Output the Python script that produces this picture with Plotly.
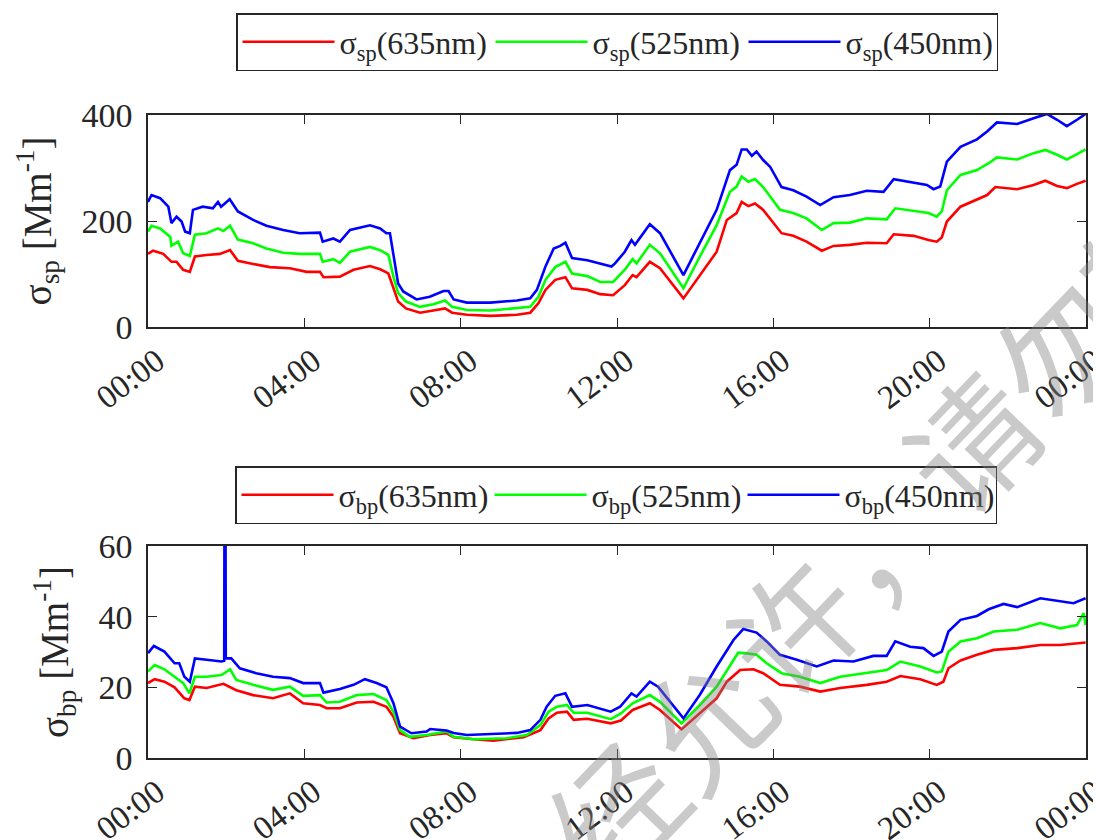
import plotly.graph_objects as go

# ---------------- data (hours since 00:00, values in Mm^-1) ----------------
sp_red_t = [0, 0.13, 0.39, 0.6, 0.73, 0.9, 1.07, 1.2, 1.5, 1.84, 2.1, 2.3, 2.69, 3.12, 3.63, 4.06, 4.4, 4.49, 4.91, 5.26, 5.68, 5.94, 6.15, 6.28, 6.4, 6.6, 6.96, 7.3, 7.6, 7.78, 8.16, 8.76, 9.44, 9.78, 9.99, 10.17, 10.42, 10.68, 10.85, 11.24, 11.57, 11.9, 12.2, 12.4, 12.5, 12.84, 13.1, 13.7, 14.55, 14.81, 15.06, 15.19, 15.36, 15.53, 15.74, 16.21, 16.51, 16.85, 17.24, 17.54, 17.96, 18.39, 18.9, 19.08, 19.59, 19.97, 20.18, 20.31, 20.44, 20.79, 21.21, 21.47, 21.68, 22.24, 22.66, 22.96, 23.26, 23.51, 23.77, 23.99]
sp_red = [138, 144, 138, 123, 123, 108, 104, 133, 136, 138, 145, 125, 119, 113, 111, 104, 104, 94, 95, 108, 115, 109, 101, 73, 48, 35, 27, 31, 35, 27, 23, 21, 23, 27, 45, 70, 89, 94, 73, 70, 62, 60, 79, 98, 94, 123, 111, 54, 142, 202, 215, 236, 228, 233, 221, 177, 172, 161, 144, 153, 155, 159, 158, 175, 172, 164, 161, 169, 199, 227, 240, 249, 264, 260, 268, 276, 266, 262, 270, 276]

sp_green_t = [0, 0.09, 0.31, 0.57, 0.6, 0.77, 0.9, 1.07, 1.2, 1.5, 1.79, 1.93, 2.1, 2.3, 2.69, 3.03, 3.46, 3.88, 4.4, 4.47, 4.74, 4.91, 5.17, 5.68, 5.94, 6.15, 6.28, 6.4, 6.6, 6.96, 7.3, 7.6, 7.78, 8.16, 8.76, 9.44, 9.78, 9.99, 10.17, 10.42, 10.68, 10.85, 11.24, 11.57, 11.9, 12.2, 12.4, 12.5, 12.84, 13.1, 13.7, 14.12, 14.55, 14.89, 15.06, 15.19, 15.36, 15.53, 15.74, 16.17, 16.51, 16.85, 17.24, 17.54, 17.96, 18.39, 18.9, 19.12, 19.59, 19.97, 20.18, 20.31, 20.44, 20.79, 21.21, 21.51, 21.72, 22.24, 22.66, 22.96, 23.26, 23.51, 23.77, 23.99]
sp_green = [180, 191, 186, 170, 153, 161, 139, 134, 174, 177, 186, 181, 191, 165, 158, 148, 140, 138, 138, 123, 128, 121, 142, 151, 145, 136, 95, 64, 48, 38, 43, 50, 38, 32, 31, 35, 38, 57, 89, 113, 123, 101, 96, 85, 85, 108, 128, 120, 155, 139, 73, 133, 192, 255, 265, 284, 274, 279, 264, 221, 215, 205, 183, 196, 197, 205, 203, 224, 219, 215, 208, 218, 258, 287, 296, 309, 320, 316, 328, 334, 325, 316, 326, 335]

sp_blue_t = [0, 0.09, 0.31, 0.52, 0.6, 0.73, 0.86, 0.95, 1.07, 1.15, 1.4, 1.66, 1.79, 1.87, 2.09, 2.3, 2.69, 3.03, 3.46, 3.88, 4.4, 4.47, 4.74, 4.91, 5.17, 5.68, 5.94, 6.1, 6.19, 6.28, 6.4, 6.53, 6.87, 7.21, 7.56, 7.69, 7.82, 8.16, 8.76, 9.44, 9.78, 9.95, 10.17, 10.38, 10.55, 10.68, 10.85, 11.24, 11.58, 11.86, 11.95, 12.2, 12.37, 12.46, 12.84, 13.1, 13.7, 14.12, 14.55, 14.89, 15.06, 15.19, 15.32, 15.45, 15.57, 15.74, 15.92, 16.21, 16.51, 16.85, 17.2, 17.54, 17.96, 18.39, 18.82, 19.08, 19.5, 19.93, 20.1, 20.27, 20.44, 20.79, 21.21, 21.47, 21.72, 22.24, 22.66, 23.0, 23.26, 23.51, 23.77, 23.99]
sp_blue = [236, 249, 243, 227, 196, 208, 199, 180, 177, 221, 227, 224, 236, 227, 241, 218, 202, 191, 183, 177, 178, 161, 167, 161, 183, 192, 186, 177, 177, 139, 82, 67, 52, 57, 68, 68, 52, 46, 46, 50, 54, 70, 114, 148, 153, 159, 130, 126, 119, 114, 120, 142, 164, 155, 194, 177, 98, 158, 221, 296, 306, 335, 335, 323, 331, 315, 302, 264, 258, 246, 230, 245, 249, 257, 255, 279, 274, 268, 260, 265, 312, 340, 354, 369, 386, 383, 394, 402, 391, 379, 391, 402]

bp_red_t = [0, 0.17, 0.42, 0.68, 0.93, 1.06, 1.2, 1.5, 1.93, 2.26, 2.69, 3.2, 3.63, 3.97, 4.4, 4.57, 4.91, 5.34, 5.77, 6.1, 6.28, 6.45, 6.79, 7.22, 7.64, 7.82, 8.33, 8.84, 9.61, 10.04, 10.25, 10.46, 10.72, 10.89, 11.24, 11.84, 12.1, 12.4, 12.84, 13.1, 13.65, 14.55, 14.81, 15.15, 15.49, 15.74, 16.17, 16.68, 17.2, 17.71, 18.39, 18.9, 19.25, 19.76, 20.18, 20.35, 20.48, 20.79, 21.21, 21.64, 22.24, 22.83, 23.34, 23.99]
bp_red = [21.2, 22.3, 21.6, 20.0, 16.9, 16.4, 20.2, 19.8, 21.0, 19.2, 17.8, 16.9, 18.3, 15.5, 15.0, 14.1, 14.1, 15.7, 15.9, 14.5, 11.7, 7.0, 5.6, 6.5, 7.0, 5.9, 5.3, 4.9, 5.9, 7.9, 11.2, 12.8, 13.1, 10.8, 11.1, 9.8, 10.6, 13.6, 15.5, 13.6, 8.1, 16.9, 21.6, 24.9, 25.1, 24.0, 20.7, 20.2, 18.8, 19.8, 20.7, 21.6, 23.2, 22.3, 20.7, 21.6, 25.4, 27.6, 29.2, 30.6, 31.1, 32.0, 32.0, 32.7]

bp_green_t = [0, 0.17, 0.42, 0.68, 0.9, 1.06, 1.2, 1.5, 1.88, 2.1, 2.26, 2.69, 3.2, 3.63, 3.97, 4.4, 4.57, 4.91, 5.34, 5.77, 6.1, 6.28, 6.45, 6.7, 7.13, 7.64, 7.82, 8.33, 9.18, 9.69, 10.04, 10.25, 10.46, 10.72, 10.89, 11.24, 11.84, 12.1, 12.4, 12.84, 13.1, 13.65, 14.12, 14.55, 14.85, 15.1, 15.32, 15.57, 15.83, 16.21, 16.68, 17.2, 17.71, 18.39, 18.9, 19.25, 19.76, 20.18, 20.31, 20.48, 20.79, 21.21, 21.64, 22.24, 22.83, 23.34, 23.77, 23.94, 23.99]
bp_green = [24.5, 26.3, 25.1, 23.0, 21.2, 18.3, 23.0, 23.0, 23.5, 25.1, 22.1, 20.7, 19.3, 20.2, 17.6, 17.8, 15.7, 15.9, 17.8, 18.1, 16.4, 13.1, 7.9, 6.0, 6.5, 7.5, 6.0, 5.3, 5.6, 6.5, 9.3, 13.1, 14.5, 15.0, 12.8, 12.8, 11.0, 12.6, 15.5, 17.8, 15.9, 9.8, 15.0, 20.2, 25.4, 29.8, 29.6, 29.2, 26.8, 24.0, 23.0, 21.2, 23.0, 24.0, 24.9, 27.3, 25.9, 24.2, 24.5, 30.1, 33.0, 33.9, 35.8, 36.3, 38.2, 36.7, 37.6, 41.0, 37.6]

bp_blue_t = [0, 0.15, 0.42, 0.68, 0.8, 0.93, 1.07, 1.2, 1.5, 1.88, 1.95, 1.96, 1.98, 1.99, 2.13, 2.35, 2.77, 3.2, 3.63, 3.97, 4.4, 4.49, 4.91, 5.26, 5.55, 5.85, 6.1, 6.28, 6.45, 6.74, 7.13, 7.22, 7.64, 7.82, 8.16, 8.76, 9.44, 9.78, 10.04, 10.2, 10.42, 10.68, 10.85, 11.24, 11.84, 12.08, 12.37, 12.5, 12.84, 13.05, 13.7, 14.12, 14.55, 14.98, 15.23, 15.57, 15.83, 16.17, 16.6, 17.11, 17.54, 18.05, 18.56, 18.9, 19.12, 19.5, 19.84, 20.1, 20.31, 20.48, 20.79, 21.21, 21.51, 21.89, 22.24, 22.83, 23.34, 23.68, 23.99]
bp_blue = [29.7, 31.7, 30.1, 26.8, 26.8, 23.0, 21.6, 28.2, 27.8, 27.3, 27.5, 90, 90, 28.2, 28.2, 25.4, 24.0, 23.0, 22.6, 21.2, 21.2, 18.5, 19.5, 20.7, 22.3, 21.2, 20.0, 15.5, 8.9, 7.0, 7.5, 8.2, 7.8, 7.1, 6.5, 6.8, 7.1, 7.9, 10.8, 14.5, 17.6, 18.3, 14.5, 15.0, 13.1, 14.5, 18.3, 17.4, 21.6, 20.2, 11.2, 17.9, 25.9, 33.4, 36.5, 35.5, 33.0, 29.2, 27.8, 25.9, 27.6, 27.3, 28.9, 28.9, 33.0, 31.5, 31.1, 28.9, 30.1, 35.8, 39.1, 40.2, 42.1, 43.6, 42.7, 45.2, 44.3, 43.8, 45.2]

x_tickvals = [0, 4, 8, 12, 16, 20, 24]
x_ticktext = ["00:00", "04:00", "08:00", "12:00", "16:00", "20:00", "00:00"]
sp_ticks = [0, 200, 400]
bp_ticks = [0, 20, 40, 60]
names_sp = ["σ<sub>sp</sub>(635nm)", "σ<sub>sp</sub>(525nm)", "σ<sub>sp</sub>(450nm)"]
names_bp = ["σ<sub>bp</sub>(635nm)", "σ<sub>bp</sub>(525nm)", "σ<sub>bp</sub>(450nm)"]
colors = ["#ff0000", "#00ff00", "#0000ff"]
watermark = "未经允许，请勿转载"

# ---------------- figure ----------------
SERIF = "Liberation Serif, Times New Roman, serif"
AX = "#262626"
OFF = 8                      # the page shows the figure offset by the body margin
W, H = 1101 - OFF, 840 - OFF
ML, MR, MT, MB = 148 - OFF, 15, 0, 0
PW = W - ML - MR


def py(px):                  # reference pixel row -> paper fraction
    return 1 - (px - OFF) / H


def pxx(px):                 # reference pixel column -> paper fraction
    return (px - OFF - ML) / PW


fig = go.Figure()
for t, v, n, c in zip([sp_red_t, sp_green_t, sp_blue_t], [sp_red, sp_green, sp_blue], names_sp, colors):
    fig.add_trace(go.Scatter(x=t, y=v, name=n, mode="lines", line=dict(color=c, width=2.6),
                             xaxis="x", yaxis="y", legend="legend"))
for t, v, n, c in zip([bp_red_t, bp_green_t, bp_blue_t], [bp_red, bp_green, bp_blue], names_bp, colors):
    fig.add_trace(go.Scatter(x=t, y=v, name=n, mode="lines", line=dict(color=c, width=2.6),
                             xaxis="x2", yaxis="y2", legend="legend2"))

common = dict(showline=True, linecolor=AX, linewidth=1.5, mirror="ticks", ticks="inside",
              ticklen=9, tickwidth=1.3, tickcolor=AX, showgrid=False, zeroline=False,
              tickfont=dict(family=SERIF, size=34, color=AX), automargin=False)
xcommon = dict(common, range=[0, 24], tickmode="array", tickvals=x_tickvals, ticktext=x_ticktext,
               tickangle=-37, ticklabelstandoff=0, ticklabelshift=9, ticklabeloverflow="allow",
               tickfont=dict(family=SERIF, size=33, color=AX))
ytitle_font = dict(family=SERIF, size=39, color=AX)
legend_common = dict(orientation="h", xanchor="center", yanchor="middle",
                     bordercolor=AX, borderwidth=1.5, bgcolor="white", itemwidth=92,
                     entrywidth=146, entrywidthmode="pixels",
                     font=dict(family=SERIF, size=32, color=AX))

fig.update_layout(
    width=W, height=H, margin=dict(l=ML, r=MR, t=MT, b=MB),
    paper_bgcolor="white", plot_bgcolor="white",
    font=dict(family=SERIF, color=AX),
    xaxis=dict(xcommon, domain=[0, 1], anchor="y"),
    yaxis=dict(common, domain=[py(327), py(115)], range=[0, 400], tickmode="array", tickvals=sp_ticks,
               anchor="x", ticklabelstandoff=7,
               title=dict(text="σ<sub>sp</sub> [Mm<sup>-1</sup>]", font=ytitle_font, standoff=18)),
    xaxis2=dict(xcommon, domain=[0, 1], anchor="y2"),
    yaxis2=dict(common, domain=[py(758), py(546)], range=[0, 60], tickmode="array", tickvals=bp_ticks,
                anchor="x2", ticklabelstandoff=7,
                title=dict(text="σ<sub>bp</sub> [Mm<sup>-1</sup>]", font=ytitle_font, standoff=18)),
    legend=dict(legend_common, x=pxx(617), y=py(42)),
    legend2=dict(legend_common, x=pxx(616), y=py(495)),
    showlegend=True,
)

fig.add_annotation(text=watermark, xref="paper", yref="paper",
                   x=pxx(879), y=py(531), xanchor="center", yanchor="middle",
                   textangle=-46, showarrow=False,
                   font=dict(family="Noto Sans CJK SC", size=128, color="rgba(128,128,128,0.42)"))

fig.write_html("out.html")
